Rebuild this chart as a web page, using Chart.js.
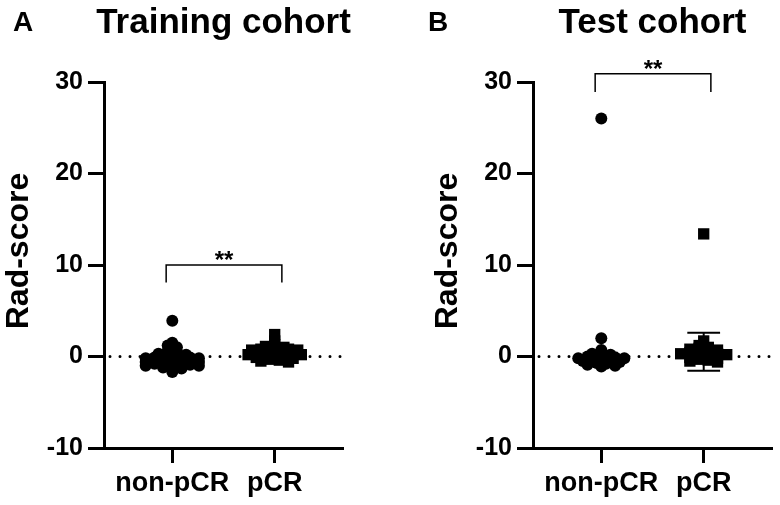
<!DOCTYPE html>
<html>
<head>
<meta charset="utf-8">
<script src="https://cdn.jsdelivr.net/npm/chart.js@4.4.1/dist/chart.umd.min.js"></script>
<style>
  body { margin: 0; background: #fff; }
  .panel { position: absolute; top: 0; }
</style>
</head>
<body>
<canvas id="chartA" class="panel" style="left:0px" width="390" height="505"></canvas>
<canvas id="chartB" class="panel" style="left:390px" width="390" height="505"></canvas>
<script>
// categories + values
const categories = ['non-pCR', 'pCR'];
const yTicks = [-10, 0, 10, 20, 30];

const trainNonPCR = [3.9, 1.5, 1.2, 1.0, 0.8, 0.6, 0.5, 0.3, 0.2, 0.1, 0.0, 0.0, -0.1, -0.1, -0.2, -0.2,
  -0.3, -0.3, -0.3, -0.4, -0.4, -0.5, -0.5, -0.5, -0.6, -0.6, -0.7, -0.7, -0.8, -0.8, -0.9, -1.0,
  -1.0, -1.1, -1.2, -1.3, -1.7];
const trainPCR = [2.4, 1.7, 1.3, 1.1, 1.0, 0.9, 0.9, 0.8, 0.8, 0.7, 0.7, 0.6, 0.6, 0.5, 0.5, 0.4,
  0.4, 0.3, 0.3, 0.2, 0.2, 0.1, 0.0, 0.0, -0.1, -0.2, -0.3, -0.4, -0.5, -0.6];
const testNonPCR = [26.0, 2.0, 0.7, 0.4, 0.3, 0.2, 0.1, 0.0, 0.0, -0.1, -0.2, -0.2, -0.3, -0.4,
  -0.4, -0.5, -0.6, -0.7, -0.8, -0.9, -1.0, -1.1];
const testPCR = [13.4, 1.7, 1.2, 1.0, 0.9, 0.9, 0.8, 0.7, 0.6, 0.5, 0.4, 0.3, 0.3, 0.2, 0.1, 0.0,
  -0.1, -0.2, -0.3, -0.4, -0.5, -0.6];

// error bars per category: [low, centre, high]
const trainErrors = [[-0.8, -0.2, 0.5], [-0.2, 0.4, 1.0]];
const testErrors = [[-0.7, -0.2, 0.4], [-1.55, 0.5, 2.6]];

// significance bracket: [top, leg end]
const trainBracket = [10.0, 8.1];
const testBracket = [30.9, 28.9];

const FONT = "'Liberation Sans', Arial, sans-serif";

// spread points sideways like a dot plot (higher values in the middle of each row)
function spread(values, center) {
  const bins = {};
  values.forEach((v) => {
    const b = Math.round(v / 0.4);
    (bins[b] = bins[b] || []).push(v);
  });
  const pts = [];
  Object.values(bins).forEach((vals) => {
    vals.sort((a, b) => b - a);
    const n = vals.length;
    const w = Math.min(0.26, (n - 1) * 0.045);
    const slots = [];
    for (let k = 0; k < n; k++) slots.push(n === 1 ? 0 : -w + (2 * w * k) / (n - 1));
    slots.sort((a, b) => Math.abs(a) - Math.abs(b));
    vals.forEach((v, k) => pts.push({ x: center + slots[k], y: v }));
  });
  return pts;
}

const extras = {
  id: 'extras',
  beforeDatasetsDraw(chart, args, o) {
    const { ctx, chartArea, scales: { y } } = chart;
    const y0 = y.getPixelForValue(0);
    ctx.save();
    ctx.strokeStyle = '#000';
    ctx.lineWidth = 3;
    ctx.lineCap = 'round';
    ctx.setLineDash([0, 10]);
    ctx.beginPath();
    ctx.moveTo(chartArea.left + 6, y0);
    ctx.lineTo(chartArea.right, y0);
    ctx.stroke();
    ctx.restore();
  },
  afterDatasetsDraw(chart, args, o) {
    const { ctx, chartArea, scales: { x, y } } = chart;
    ctx.save();
    ctx.strokeStyle = '#000';
    ctx.fillStyle = '#000';
    ctx.lineWidth = 2;
    // error bars
    o.errors.forEach((e, i) => {
      const cx = i + 1;
      ctx.beginPath();
      ctx.moveTo(x.getPixelForValue(cx), y.getPixelForValue(e[0]));
      ctx.lineTo(x.getPixelForValue(cx), y.getPixelForValue(e[2]));
      [[e[0], 0.16], [e[2], 0.16], [e[1], 0.22]].forEach(([v, hw]) => {
        ctx.moveTo(x.getPixelForValue(cx - hw), y.getPixelForValue(v));
        ctx.lineTo(x.getPixelForValue(cx + hw), y.getPixelForValue(v));
      });
      ctx.stroke();
    });
    // bracket
    const bx1 = x.getPixelForValue(0.94);
    const bx2 = x.getPixelForValue(2.07);
    const by = y.getPixelForValue(o.bracket[0]);
    const bl = y.getPixelForValue(o.bracket[1]);
    ctx.lineWidth = 1.5;
    ctx.beginPath();
    ctx.moveTo(bx1, bl);
    ctx.lineTo(bx1, by);
    ctx.lineTo(bx2, by);
    ctx.lineTo(bx2, bl);
    ctx.stroke();
    ctx.font = 'bold 24px ' + FONT;
    ctx.textAlign = 'center';
    ctx.textBaseline = 'alphabetic';
    ctx.fillText('**', (bx1 + bx2) / 2, by + 3);
    // titles
    ctx.font = 'bold 35px ' + FONT;
    ctx.fillText(o.title, (chartArea.left + chartArea.right) / 2, 33);
    ctx.textAlign = 'left';
    ctx.font = 'bold 28px ' + FONT;
    ctx.fillText(o.letter, o.letterX, 31);
    // y axis title
    ctx.translate(chartArea.left - 76, (chartArea.top + chartArea.bottom) / 2 - 14);
    ctx.rotate(-Math.PI / 2);
    ctx.textAlign = 'center';
    ctx.font = 'bold 32px ' + FONT;
    ctx.fillText('Rad-score', 0, 0);
    ctx.restore();
  }
};

function makeChart(id, nonPCR, pCR, opts) {
  return new Chart(document.getElementById(id), {
    type: 'scatter',
    data: {
      datasets: [
        { data: spread(nonPCR, 1), pointStyle: 'circle', pointRadius: 6, backgroundColor: '#000', borderWidth: 0 },
        { data: spread(pCR, 2), pointStyle: 'rect', pointRadius: 8, backgroundColor: '#000', borderWidth: 0 },
      ],
    },
    options: {
      responsive: false,
      animation: false,
      events: [],
      layout: { padding: { left: opts.padLeft, right: opts.padRight, top: 82, bottom: 0 } },
      plugins: {
        legend: { display: false },
        tooltip: { enabled: false },
        extras: opts,
      },
      scales: {
        x: {
          type: 'linear',
          min: 0.333,
          max: 2.667,
          afterBuildTicks: (s) => { s.ticks = categories.map((c, i) => ({ value: i + 1 })); },
          afterFit: (s) => { s.height = 57; },
          ticks: {
            callback: (v) => categories[v - 1],
            color: '#000',
            font: { family: FONT, size: 27, weight: 'bold' },
            padding: 4,
            maxRotation: 0,
          },
          grid: { drawOnChartArea: false, tickLength: 15, tickWidth: 3, tickColor: '#000' },
          border: { color: '#000', width: 3 },
        },
        y: {
          min: -10,
          max: 30,
          afterBuildTicks: (s) => { s.ticks = yTicks.map((v) => ({ value: v })); },
          afterFit: (s) => { s.width = 104; },
          ticks: {
            color: '#000',
            font: { family: FONT, size: 25, weight: 'bold' },
            padding: 5,
          },
          grid: { drawOnChartArea: false, tickLength: 16, tickWidth: 3, tickColor: '#000' },
          border: { color: '#000', width: 3 },
        },
      },
    },
    plugins: [extras],
  });
}

makeChart('chartA', trainNonPCR, trainPCR, {
  padLeft: 0, padRight: 47, title: 'Training cohort', letter: 'A', letterX: 13,
  errors: trainErrors, bracket: trainBracket,
});
makeChart('chartB', testNonPCR, testPCR, {
  padLeft: 39, padRight: 7, title: 'Test cohort', letter: 'B', letterX: 38,
  errors: testErrors, bracket: testBracket,
});
</script>
</body>
</html>
